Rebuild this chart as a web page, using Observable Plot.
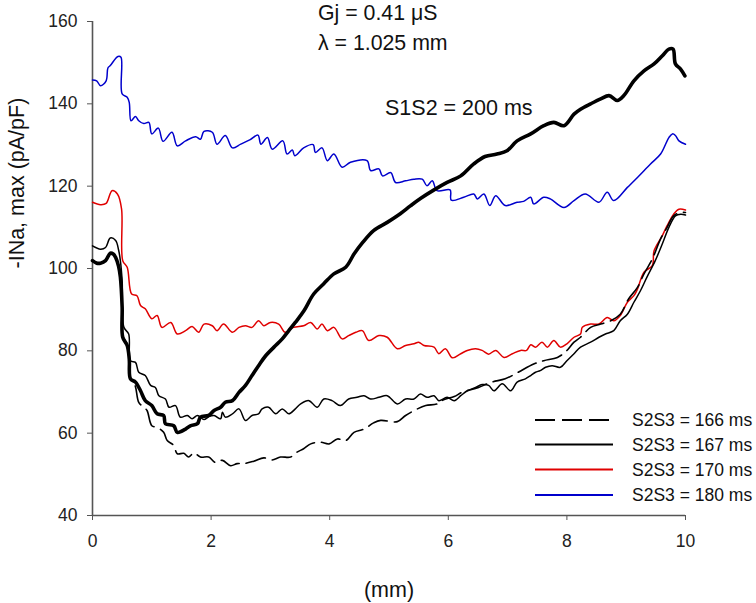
<!DOCTYPE html>
<html>
<head>
<meta charset="utf-8">
<script src="https://cdn.jsdelivr.net/npm/d3@7"></script>
<script src="https://cdn.jsdelivr.net/npm/@observablehq/plot@0.6"></script>
<style>
  body { margin: 0; background: #fff; }
  #chart { position: relative; width: 756px; height: 603px; font-family: "Liberation Sans", Arial, sans-serif; }
  #legend { position: absolute; left: 0; top: 0; pointer-events: none; }
</style>
</head>
<body>
<div id="chart"></div>
<script>
// ---- Data (x in mm, y = -INa,max in pA/pF) ----
const xTicks = [0, 2, 4, 6, 8, 10];
const yTicks = [40, 60, 80, 100, 120, 140, 160];

const legendLabels = ["S2S3 = 166 ms", "S2S3 = 167 ms", "S2S3 = 170 ms", "S2S3 = 180 ms"];
const legendColors = ["#000000", "#000000", "#e00000", "#0000cc"];
const legendDashes = ["20,7", null, null, null];

const annotations = ["Gj = 0.41 \u03bcS", "\u03bb = 1.025 mm", "S1S2 = 200 ms"];

// thick black trace (not in legend)
const thickBlack = [[0,101.9],[0.07,101.3],[0.135,101.3],[0.22,101.9],[0.30,103.7],[0.35,103.5],[0.39,102.7],[0.44,100.5],[0.47,97.9],[0.50,90.6],[0.51,83.3],[0.585,81.3],[0.62,78],[0.64,73.2],[0.725,72.4],[0.81,70.3],[0.89,67.9],[1.0,66.7],[1.09,64.7],[1.20,64.3],[1.23,62.3],[1.37,61.8],[1.43,60.2],[1.57,61.0],[1.65,61.8],[1.77,62.3],[1.82,63.9],[1.96,64.3],[2.05,65.5],[2.16,66.3],[2.24,67.5],[2.36,67.9],[2.47,69.9],[2.58,71.6],[2.69,74.0],[2.80,76.4],[2.92,78.8],[3.06,80.9],[3.20,82.9],[3.31,84.9],[3.42,86.9],[3.56,89.6],[3.73,93.8],[3.90,96.3],[4.07,98.7],[4.27,100.3],[4.41,103.5],[4.55,106.2],[4.74,109.2],[4.97,111.2],[5.19,113.3],[5.36,115.2],[5.53,117.0],[5.76,119.1],[5.98,120.9],[6.21,122.5],[6.43,125.4],[6.62,127.2],[6.82,127.8],[6.99,128.6],[7.16,131.0],[7.39,132.7],[7.61,134.7],[7.78,135.5],[7.95,134.7],[8.12,137.5],[8.23,138.7],[8.40,140.0],[8.57,141.2],[8.71,142.0],[8.85,140.8],[8.96,142.0],[9.13,145.6],[9.30,148.0],[9.47,149.7],[9.61,151.7],[9.72,153.3],[9.79,153.3],[9.83,149.7],[9.92,148.4],[9.99,146.8]];

// S2S3 = 166 ms (dashed)
const s166 = [[0,101.9],[0.135,101.3],[0.22,101.9],[0.30,103.7],[0.39,102.7],[0.47,97.9],[0.50,90.6],[0.51,83.5],[0.585,81.5],[0.64,73.5],[0.72,71.5],[0.78,67.5],[0.865,66.3],[0.92,65.5],[1.0,61.8],[1.09,61.4],[1.20,60.2],[1.26,58.2],[1.37,57.0],[1.43,55.0],[1.54,55.1],[1.62,54.2],[1.71,55.2],[1.82,54.2],[1.96,54.2],[2.07,52.9],[2.19,53.4],[2.33,52.1],[2.44,52.6],[2.55,52.6],[2.72,53.2],[2.89,54.0],[3.03,53.5],[3.17,54.2],[3.34,54.2],[3.45,55.4],[3.56,56.2],[3.68,57.4],[3.84,57.8],[3.99,57.4],[4.13,58.6],[4.27,58.2],[4.41,60.2],[4.58,61.0],[4.74,62.5],[4.86,63.1],[5.14,62.8],[5.28,64.3],[5.48,65.9],[5.62,66.7],[5.81,67.1],[5.92,68.1],[6.10,68.9],[6.23,69.9],[6.51,71.1],[6.73,72.4],[6.96,73.2],[7.18,74.8],[7.44,76.8],[7.61,77.6],[7.84,78.4],[7.98,79.8],[8.12,82.1],[8.23,83.3],[8.40,85.7],[8.57,86.5],[8.74,87.3],[8.90,88.9],[9.04,92.6],[9.19,95.4],[9.30,98.7],[9.44,102.3],[9.58,107.2],[9.69,110.0],[9.80,112.8],[9.92,113.6],[10,113.6]];

// S2S3 = 167 ms (thin black)
const s167 = [[0,105.5],[0.135,104.7],[0.22,105.1],[0.30,107.4],[0.39,106.8],[0.44,104.5],[0.47,101.9],[0.50,97],[0.53,85.7],[0.61,84.1],[0.64,77.6],[0.725,77.2],[0.78,74.8],[0.89,74.0],[0.98,71.6],[1.06,71.1],[1.12,69.1],[1.23,68.3],[1.29,66.3],[1.40,66.7],[1.48,63.9],[1.60,64.3],[1.68,63.5],[1.77,64.3],[1.88,63.3],[1.96,64.0],[2.05,64.3],[2.16,63.5],[2.19,65.1],[2.24,63.9],[2.36,64.7],[2.47,65.9],[2.58,63.1],[2.69,64.3],[2.80,64.7],[2.86,65.9],[2.97,66.3],[3.09,64.7],[3.20,65.9],[3.31,64.7],[3.42,65.9],[3.51,67.1],[3.65,67.9],[3.79,66.3],[3.90,68.3],[4.04,67.9],[4.18,66.7],[4.32,68.3],[4.46,68.7],[4.58,69.1],[4.69,68.3],[4.83,68.7],[4.97,69.1],[5.14,67.1],[5.28,68.3],[5.42,68.3],[5.53,69.5],[5.64,68.7],[5.76,69.1],[5.84,67.9],[5.98,68.7],[6.10,67.9],[6.21,69.1],[6.32,70.3],[6.46,71.1],[6.57,71.8],[6.68,71.6],[6.77,70.3],[6.91,72.0],[7.05,70.3],[7.16,72.4],[7.30,73.2],[7.39,74.0],[7.47,74.8],[7.55,75.2],[7.64,76.0],[7.75,76.4],[7.89,76.0],[8.0,77.6],[8.12,79.3],[8.23,80.9],[8.40,82.1],[8.54,83.3],[8.65,84.1],[8.79,84.9],[8.90,87.3],[9.02,88.9],[9.13,91.8],[9.24,94.6],[9.35,97.9],[9.49,101.9],[9.61,106.0],[9.72,110.0],[9.83,112.8],[9.92,113.2],[10,113.0]];

// S2S3 = 170 ms (red)
const s170 = [[0,116.1],[0.135,115.5],[0.23,115.8],[0.33,118.9],[0.42,118.1],[0.49,114.5],[0.51,101.9],[0.585,100.3],[0.66,93.8],[0.75,93.4],[0.81,91.0],[0.89,90.2],[1.0,87.8],[1.09,88.6],[1.17,85.7],[1.32,86.9],[1.43,84.1],[1.57,84.9],[1.68,85.9],[1.79,84.5],[1.88,86.5],[2.02,86.1],[2.10,84.9],[2.21,86.5],[2.36,84.5],[2.47,85.7],[2.58,86.1],[2.69,85.7],[2.80,87.3],[2.89,86.1],[3.0,86.9],[3.14,86.5],[3.25,84.5],[3.39,85.7],[3.56,86.1],[3.68,86.9],[3.79,85.3],[3.87,86.5],[3.96,84.9],[4.07,85.7],[4.21,82.9],[4.32,83.7],[4.44,84.5],[4.55,84.9],[4.66,82.5],[4.83,83.7],[4.97,83.3],[5.14,80.5],[5.28,81.3],[5.42,81.7],[5.50,82.1],[5.59,81.3],[5.76,80.9],[5.84,79.3],[5.95,80.5],[6.07,78.3],[6.21,79.3],[6.32,80.1],[6.46,80.5],[6.57,80.1],[6.68,79.2],[6.80,80.1],[6.94,78.4],[7.08,79.3],[7.22,80.1],[7.32,80.1],[7.39,81.5],[7.47,80.9],[7.58,82.1],[7.67,80.9],[7.78,82.5],[7.89,80.9],[8.0,81.7],[8.12,83.3],[8.23,84.1],[8.26,85.7],[8.40,86.5],[8.54,86.5],[8.68,88.1],[8.79,87.3],[8.90,88.6],[9.02,91.8],[9.13,93.4],[9.19,95.0],[9.30,99.1],[9.44,100.7],[9.47,104.3],[9.61,108.0],[9.69,110.4],[9.80,113.2],[9.89,114.4],[10,114.2]];

// S2S3 = 180 ms (blue)
const s180 = [[0,145.8],[0.07,145.6],[0.135,144.4],[0.23,145.6],[0.26,148.7],[0.30,149.3],[0.43,151.5],[0.48,151.3],[0.50,142.4],[0.585,141.6],[0.62,140.3],[0.65,135.9],[0.725,136.9],[0.78,135.9],[0.865,135.2],[0.95,135.5],[1.0,132.7],[1.11,134.1],[1.19,130.9],[1.34,133.1],[1.43,129.8],[1.57,131.0],[1.74,132.0],[1.82,131.4],[1.88,133.3],[2.02,133.1],[2.10,130.2],[2.24,132.3],[2.36,129.3],[2.50,130.2],[2.66,131.3],[2.79,132.4],[2.84,130.2],[2.95,131.8],[3.03,129.0],[3.21,131.0],[3.28,127.8],[3.37,128.8],[3.41,127.4],[3.56,129.3],[3.72,130.1],[3.76,128.2],[3.87,129.3],[3.96,126.2],[4.07,127.8],[4.21,124.6],[4.35,125.8],[4.63,126.2],[4.69,123.8],[4.83,124.2],[4.89,122.5],[5.03,123.3],[5.11,120.9],[5.28,121.3],[5.42,121.7],[5.56,121.7],[5.64,120.1],[5.73,121.3],[5.81,118.9],[6.03,119.1],[6.05,116.6],[6.26,117.3],[6.43,118.1],[6.49,116.9],[6.60,118.1],[6.70,115.3],[6.80,117.7],[6.96,115.3],[7.16,116.1],[7.27,116.3],[7.39,117.3],[7.44,115.7],[7.61,117.3],[7.72,116.9],[7.95,114.8],[8.12,116.5],[8.31,118.1],[8.54,116.1],[8.68,118.5],[8.79,116.5],[9.02,119.7],[9.19,122.1],[9.41,125.4],[9.58,127.8],[9.72,131.8],[9.78,132.7],[9.83,132.3],[9.89,131.0],[10,130.2]];

// ---- Chart ----
const FONT = "'Liberation Sans', Arial, sans-serif";
const AXIS = "#555";
const CURVE = "catmull-rom";
const px = d => d[0], py = d => d[1];

const plot = Plot.plot({
  width: 756,
  height: 603,
  marginLeft: 92,
  marginRight: 71,
  marginTop: 21,
  marginBottom: 88,
  style: { fontFamily: FONT, fontSize: "17.5px", color: "#222", background: "#fff" },
  x: { domain: [0, 10] },
  y: { domain: [40, 160] },
  marks: [
    Plot.axisX({ ticks: xTicks, tickSize: 5, tickPadding: 14, label: null, stroke: AXIS, fill: "#222", fontSize: 17.5 }),
    Plot.axisY({ ticks: yTicks, tickSize: 5, tickPadding: 10, label: null, stroke: AXIS, fill: "#222", fontSize: 17.5 }),
    Plot.ruleX([0], { stroke: AXIS, strokeWidth: 1.6 }),
    Plot.ruleY([40], { stroke: AXIS, strokeWidth: 1.6 }),
    Plot.line(s180, { x: px, y: py, stroke: legendColors[3], strokeWidth: 1.5, curve: CURVE }),
    Plot.line(s170, { x: px, y: py, stroke: legendColors[2], strokeWidth: 1.5, curve: CURVE }),
    Plot.line(s167, { x: px, y: py, stroke: legendColors[1], strokeWidth: 1.5, curve: CURVE }),
    Plot.line(s166, { x: px, y: py, stroke: legendColors[0], strokeWidth: 1.6, strokeDasharray: legendDashes[0], curve: CURVE }),
    Plot.line(thickBlack, { x: px, y: py, stroke: "#000", strokeWidth: 3.6, strokeLinejoin: "round", curve: CURVE }),
    Plot.text([annotations[0]], { frameAnchor: "top", textAnchor: "start", lineAnchor: "middle", dx: -71, dy: -8, fontSize: 21.3, fill: "#111" }),
    Plot.text([annotations[1]], { frameAnchor: "top", textAnchor: "start", lineAnchor: "middle", dx: -71, dy: 22, fontSize: 21.3, fill: "#111" }),
    Plot.text([annotations[2]], { frameAnchor: "top", textAnchor: "start", lineAnchor: "middle", dx: -4, dy: 87, fontSize: 21.5, fill: "#111" }),
    Plot.text(["-INa, max (pA/pF)"], { frameAnchor: "left", rotate: -90, lineAnchor: "middle", dx: -75, fontSize: 21.5, fill: "#111" }),
    Plot.text(["(mm)"], { frameAnchor: "bottom", lineAnchor: "middle", dy: 75, fontSize: 21.5, fill: "#111" })
  ]
});

const chart = document.getElementById("chart");
chart.appendChild(plot);

// ---- Legend (overlay, bottom right) ----
const leg = d3.select(chart).append("svg")
  .attr("id", "legend")
  .attr("width", 756).attr("height", 603)
  .style("font-family", FONT);
const rowY = [420, 444.5, 469.5, 495];
legendLabels.forEach((lab, i) => {
  leg.append("line")
    .attr("x1", 535).attr("x2", 613)
    .attr("y1", rowY[i]).attr("y2", rowY[i])
    .attr("stroke", legendColors[i])
    .attr("stroke-width", 1.8)
    .attr("stroke-dasharray", legendDashes[i]);
  leg.append("text")
    .attr("x", 632).attr("y", rowY[i])
    .attr("dy", "0.35em")
    .attr("font-size", "17.5px")
    .attr("fill", "#111")
    .text(lab);
});
</script>
</body>
</html>
